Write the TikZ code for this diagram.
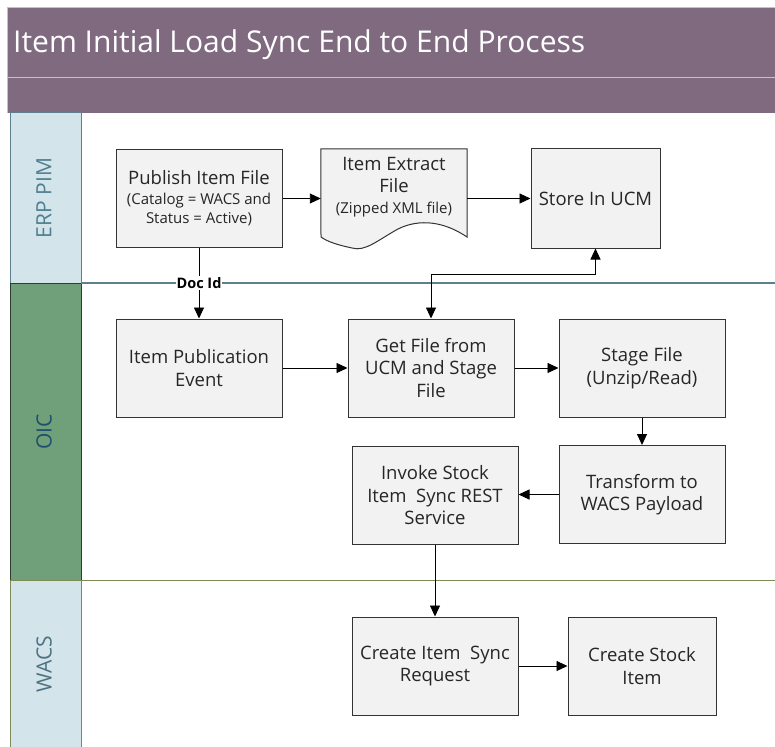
\documentclass[tikz,border=0pt]{standalone}
\usepackage{fontspec}
\setmainfont{Open Sans}
\usetikzlibrary{arrows.meta}
\definecolor{titlepurple}{HTML}{7F6A80}
\definecolor{titleline}{HTML}{C9BFC9}
\definecolor{lanelight}{HTML}{D3E4EA}
\definecolor{lanegreen}{HTML}{6FA07A}
\definecolor{erpborder}{HTML}{5E7F8E}
\definecolor{wacsborder}{HTML}{7C8A55}
\definecolor{oicborder}{HTML}{2E3D33}
\definecolor{erptext}{HTML}{4E7F8F}
\definecolor{oictext}{HTML}{1F4E6E}
\definecolor{wacstext}{HTML}{4D7282}
\definecolor{boxgray}{HTML}{F2F2F2}
\newcommand\bxf{\fontsize{18.5}{22.5}\selectfont}
\newcommand\smf{\fontsize{15}{18.5}\selectfont}
\tikzset{
  procbox/.style={draw=black!80, fill=boxgray, line width=1pt, align=center,
    font=\bxf, text=black!85, inner sep=2pt, minimum width=166pt, minimum height=98pt},
  arr/.style={-{Triangle[length=11pt,width=10pt]}, line width=0.9pt},
  dblarr/.style={{Triangle[length=11pt,width=10pt]}-{Triangle[length=11pt,width=10pt]}, line width=0.9pt},
  lanelabel/.style={rotate=90, font=\fontsize{21}{21}\selectfont}
}
\begin{document}
\begin{tikzpicture}[x=1pt,y=-1pt]
\useasboundingbox (0,0) rectangle (775,746);
% title band
\fill[titlepurple] (7,7) rectangle (775,113);
\draw[titleline, line width=1pt] (7,78) -- (775,78);
\draw[titleline, line width=0.6pt] (7,113) -- (7,7) -- (775,7);
\node[anchor=base west, text=white, inner sep=0pt] (title) at (13,53)
  {\resizebox{572pt}{!}{\fontsize{30}{30}\selectfont Item Initial Load Sync End to End Process}};
% lane header column
\draw[fill=lanelight, draw=erpborder, line width=1pt] (10,113) rectangle (81,283);
\draw[fill=lanegreen, draw=oicborder, line width=1pt] (10,283) rectangle (81,580);
\draw[fill=lanelight, draw=wacsborder, line width=1pt] (10,580) rectangle (81,748);
\node[lanelabel, text=erptext] (lerp) at (44,198) {ERP PIM};
\node[lanelabel, text=oictext] (loic) at (44,432) {OIC};
\node[lanelabel, text=wacstext] (lwacs) at (44,664) {WACS};
% lane separators
\draw[erpborder, line width=1.4pt] (81,283) -- (775,283);
\draw[wacsborder, line width=1pt] (81,580) -- (775,580);
% ERP PIM lane
\node[procbox] (pub) at (199,198.5) {Publish Item File\\[-3pt]{\smf (Catalog = WACS and}\\[-3pt]{\smf Status = Active)}};
\node[minimum width=146pt, minimum height=99pt, inner sep=0pt] (ext) at (394,198.5) {};
\draw[draw=black!80, fill=boxgray, line width=1pt]
  (ext.north west) -- (ext.north east) -- (467,237)
  .. controls (445,222) and (420,218) .. (398,229)
  .. controls (378,240) and (365,252) .. (352,248)
  .. controls (338,245) and (328,242) .. (321,237) -- cycle;
\node[align=center, font=\bxf, text=black!85, inner sep=0pt] (exttxt) at (394,187)
  {Item Extract\\File\\[-2pt]{\smf (Zipped XML file)}};
\node[procbox, minimum width=129pt, minimum height=99pt] (store) at (595.5,198.5) {Store In UCM};
% OIC lane
\node[procbox] (evt) at (199,368) {Item Publication\\Event};
\node[procbox] (get) at (431,368) {Get File from\\UCM and Stage\\File};
\node[procbox] (stage) at (642,368) {Stage File\\(Unzip/Read)};
\node[procbox] (trans) at (642,494.5) {Transform to\\WACS Payload};
\node[procbox] (inv) at (435,495.5) {Invoke Stock\\Item\ \ Sync REST\\Service};
% WACS lane
\node[procbox] (req) at (435,666) {Create Item\ \ Sync\\Request};
\node[procbox, minimum width=148pt] (stock) at (642,666) {Create Stock\\Item};
% connectors
\draw[arr] (pub.east) -- (ext.west);
\draw[arr] (ext.east) -- (store.west);
\draw[arr] (pub.south) -- (evt.north);
\node[fill=white, inner sep=1pt, font=\fontsize{14.5}{14.5}\selectfont\bfseries] (docid) at (199,283) {Doc Id};
\draw[dblarr] (store.south) -- (store.south |- 0,274) -- (get.north |- 0,274) -- (get.north);
\draw[arr] (evt.east) -- (get.west);
\draw[arr] (get.east) -- (stage.west);
\draw[arr] (stage.south) -- (trans.north);
\draw[arr] (trans.west) -- (inv.east |- trans.west);
\draw[arr] (inv.south) -- (req.north);
\draw[arr] (req.east) -- (stock.west);
\end{tikzpicture}
\end{document}
